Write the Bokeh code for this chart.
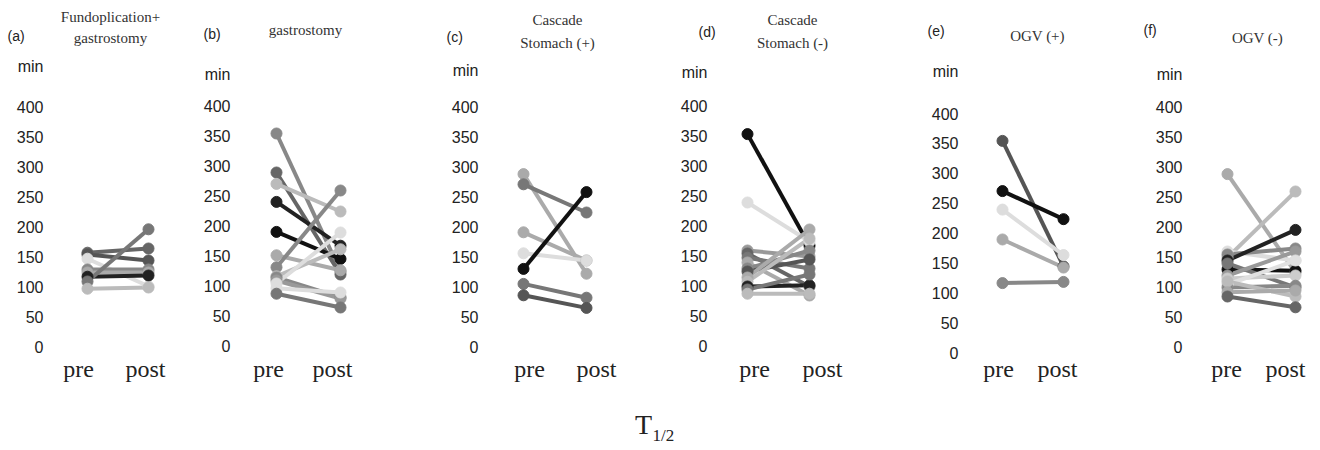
from bokeh.plotting import figure
from bokeh.models import Range1d, FixedTicker, Label, ColumnDataSource, CustomJSTickFormatter
from bokeh.layouts import row, column
from bokeh.embed import file_html
from bokeh.resources import INLINE

# ---------------- data ----------------
categories = ["pre", "post"]
y_ticks = [0, 50, 100, 150, 200, 250, 300, 350, 400]
unit_label = "min"
panel_tags = ["(a)", "(b)", "(c)", "(d)", "(e)", "(f)"]
panel_titles = [["Fundoplication+", "gastrostomy"], ["gastrostomy"],
                ["Cascade", "Stomach (+)"], ["Cascade", "Stomach (-)"],
                ["OGV (+)"], ["OGV (-)"]]
axis_title = "T"
axis_title_sub = "1/2"

a_pre = [158, 155, 148, 130, 125, 118, 110, 98]
a_post = [165, 145, 102, 130, 125, 120, 197, 100]
a_colors = ["#666666", "#555555", "#dddddd", "#888888", "#aaaaaa", "#222222", "#777777", "#bbbbbb"]

b_pre = [355, 290, 271, 241, 191, 152, 132, 117, 115, 110, 105, 97, 88]
b_post = [125, 120, 225, 168, 146, 127, 260, 162, 82, 80, 190, 90, 65]
b_colors = ["#888888", "#666666", "#bbbbbb", "#222222", "#111111", "#aaaaaa", "#888888",
            "#bbbbbb", "#888888", "#999999", "#dddddd", "#dddddd", "#777777"]

c_pre = [289, 272, 192, 157, 131, 106, 87]
c_post = [123, 225, 145, 145, 259, 83, 66]
c_colors = ["#aaaaaa", "#777777", "#aaaaaa", "#dddddd", "#111111", "#777777", "#555555"]

d_pre = [354, 240, 160, 155, 148, 140, 130, 125, 115, 108, 100, 95, 88]
d_post = [168, 175, 150, 100, 130, 85, 160, 145, 195, 180, 102, 120, 88]
d_colors = ["#111111", "#dddddd", "#999999", "#666666", "#777777", "#aaaaaa", "#888888",
            "#555555", "#aaaaaa", "#bbbbbb", "#222222", "#777777", "#bbbbbb"]

e_pre = [355, 271, 240, 190, 117]
e_post = [145, 224, 164, 143, 119]
e_colors = ["#555555", "#111111", "#dddddd", "#aaaaaa", "#888888"]

f_pre = [289, 150, 160, 155, 145, 130, 140, 120, 115, 105, 100, 110, 92, 85]
f_post = [125, 260, 145, 165, 196, 128, 100, 160, 120, 145, 103, 85, 95, 67]
f_colors = ["#aaaaaa", "#bbbbbb", "#dddddd", "#888888", "#222222", "#111111", "#777777",
            "#999999", "#cccccc", "#e0e0e0", "#888888", "#bbbbbb", "#aaaaaa", "#666666"]

series = [(a_pre, a_post, a_colors), (b_pre, b_post, b_colors), (c_pre, c_post, c_colors),
          (d_pre, d_post, d_colors), (e_pre, e_post, e_colors), (f_pre, f_post, f_colors)]

# ---------------- layout (picture pixels) ----------------
LAYOUT = [
    dict(fig=(0, 195), tick_right=43, pre=87, post=148, labs=(78, 145), y0=347, scale=0.6,
         tag=(7, 35), title_x=110, title_y=[16, 37], min_y=66),
    dict(fig=(195, 440), tick_right=230, pre=276, post=340, labs=(268, 332), y0=346, scale=0.6,
         tag=(203, 33), title_x=305, title_y=[29], min_y=74),
    dict(fig=(440, 670), tick_right=478, pre=523, post=586, labs=(529, 596), y0=347, scale=0.6,
         tag=(446, 36), title_x=557, title_y=[19, 42], min_y=70),
    dict(fig=(670, 925), tick_right=707, pre=747, post=809, labs=(754, 822), y0=346, scale=0.6,
         tag=(698, 31), title_x=792, title_y=[19, 42], min_y=72),
    dict(fig=(925, 1140), tick_right=958, pre=1002, post=1063, labs=(998, 1057), y0=352.5, scale=0.5975,
         tag=(927, 30), title_x=1037, title_y=[35], min_y=71),
    dict(fig=(1140, 1320), tick_right=1182, pre=1227, post=1295, labs=(1226, 1285), y0=347, scale=0.6,
         tag=(1143, 29), title_x=1257, title_y=[37], min_y=74),
]
TOP_H = 56
FRAME_BOTTOM = 355
FIG_BOTTOM = 390
TOTAL_W = 1320
TOTAL_H = 450

x_pos = {categories[0]: 0.0, categories[1]: 1.0}

# strip with panel tags and titles
top = figure(width=TOTAL_W, height=TOP_H, x_range=Range1d(0, TOTAL_W), y_range=Range1d(TOP_H, 0),
             output_backend="svg", toolbar_location=None,
             x_axis_location=None, y_axis_location=None,
             min_border_left=0, min_border_right=0, min_border_top=0, min_border_bottom=0)
top.outline_line_color = None
top.grid.visible = False
for i, L in enumerate(LAYOUT):
    top.add_layout(Label(x=L["tag"][0], y=L["tag"][1], text=panel_tags[i],
                         text_font="Liberation Sans", text_font_size="14px",
                         text_color="#222222", text_align="left", text_baseline="middle"))
    for line, ty in zip(panel_titles[i], L["title_y"]):
        top.add_layout(Label(x=L["title_x"], y=ty, text=line,
                             text_font="Liberation Serif", text_font_size="15px",
                             text_color="#333333", text_align="center", text_baseline="middle"))


def make_panel(i):
    L = LAYOUT[i]
    pre, post, colors = series[i]
    fl, fr = L["fig"]
    frame_left = L["tick_right"] + 3
    sx = L["post"] - L["pre"]
    s = L["scale"]

    def px(v):
        return (v - L["pre"]) / sx

    def py(v):
        return (L["y0"] - v) / s

    p = figure(width=fr - fl, height=FIG_BOTTOM - TOP_H,
               x_range=Range1d(px(frame_left), px(fr)),
               y_range=Range1d(py(FRAME_BOTTOM), py(TOP_H)),
               output_backend="svg", toolbar_location=None,
               min_border_left=frame_left - fl, min_border_right=0,
               min_border_top=0, min_border_bottom=FIG_BOTTOM - FRAME_BOTTOM)
    p.outline_line_color = None
    p.grid.visible = False
    p.background_fill_color = "white"
    p.border_fill_color = "white"

    min_v = int(round(py(L["min_y"])))
    yax = p.yaxis[0]
    yax.ticker = FixedTicker(ticks=y_ticks + [min_v])
    yax.major_label_overrides = {min_v: unit_label}
    yax.axis_line_color = None
    yax.major_tick_line_color = None
    yax.minor_tick_line_color = None
    yax.major_tick_out = 0
    yax.major_tick_in = 0
    yax.major_label_standoff = 3
    yax.major_label_text_font = "Liberation Sans"
    yax.major_label_text_font_size = "16px"
    yax.major_label_text_color = "#222222"

    xax = p.xaxis[0]
    xax.ticker = FixedTicker(ticks=[px(L["labs"][0]), px(L["labs"][1])])
    xax.formatter = CustomJSTickFormatter(args=dict(cats=categories),
                                          code="return tick < 0.5 ? cats[0] : cats[1];")
    xax.axis_line_color = None
    xax.major_tick_line_color = None
    xax.minor_tick_line_color = None
    xax.major_tick_out = 0
    xax.major_tick_in = 0
    xax.major_label_standoff = 0
    xax.major_label_text_font = "Liberation Serif"
    xax.major_label_text_font_size = "24px"
    xax.major_label_text_color = "#222222"

    n = len(pre)
    src = ColumnDataSource(dict(
        x0=[x_pos[categories[0]]] * n, y0=pre,
        x1=[x_pos[categories[1]]] * n, y1=post, color=colors))
    p.segment(x0="x0", y0="y0", x1="x1", y1="y1", color="color", line_width=4, source=src)
    p.scatter(x="x0", y="y0", color="color", size=11, source=src)
    p.scatter(x="x1", y="y1", color="color", size=11, source=src)
    return p


panels = [make_panel(i) for i in range(6)]

bottom = figure(width=TOTAL_W, height=TOTAL_H - FIG_BOTTOM, x_range=Range1d(0, TOTAL_W),
                y_range=Range1d(TOTAL_H, FIG_BOTTOM),
                output_backend="svg", toolbar_location=None,
                x_axis_location=None, y_axis_location=None,
                min_border_left=0, min_border_right=0, min_border_top=0, min_border_bottom=0)
bottom.outline_line_color = None
bottom.grid.visible = False
bottom.add_layout(Label(x=643, y=424, text=axis_title, text_font="Liberation Serif",
                        text_font_size="28px", text_color="#222222",
                        text_align="center", text_baseline="middle"))
bottom.add_layout(Label(x=652, y=435, text=axis_title_sub, text_font="Liberation Serif",
                        text_font_size="17px", text_color="#222222",
                        text_align="left", text_baseline="middle"))

layout = column(top, row(*panels, spacing=0), bottom, spacing=0)
open("out.html", "w").write(file_html(layout, INLINE))
